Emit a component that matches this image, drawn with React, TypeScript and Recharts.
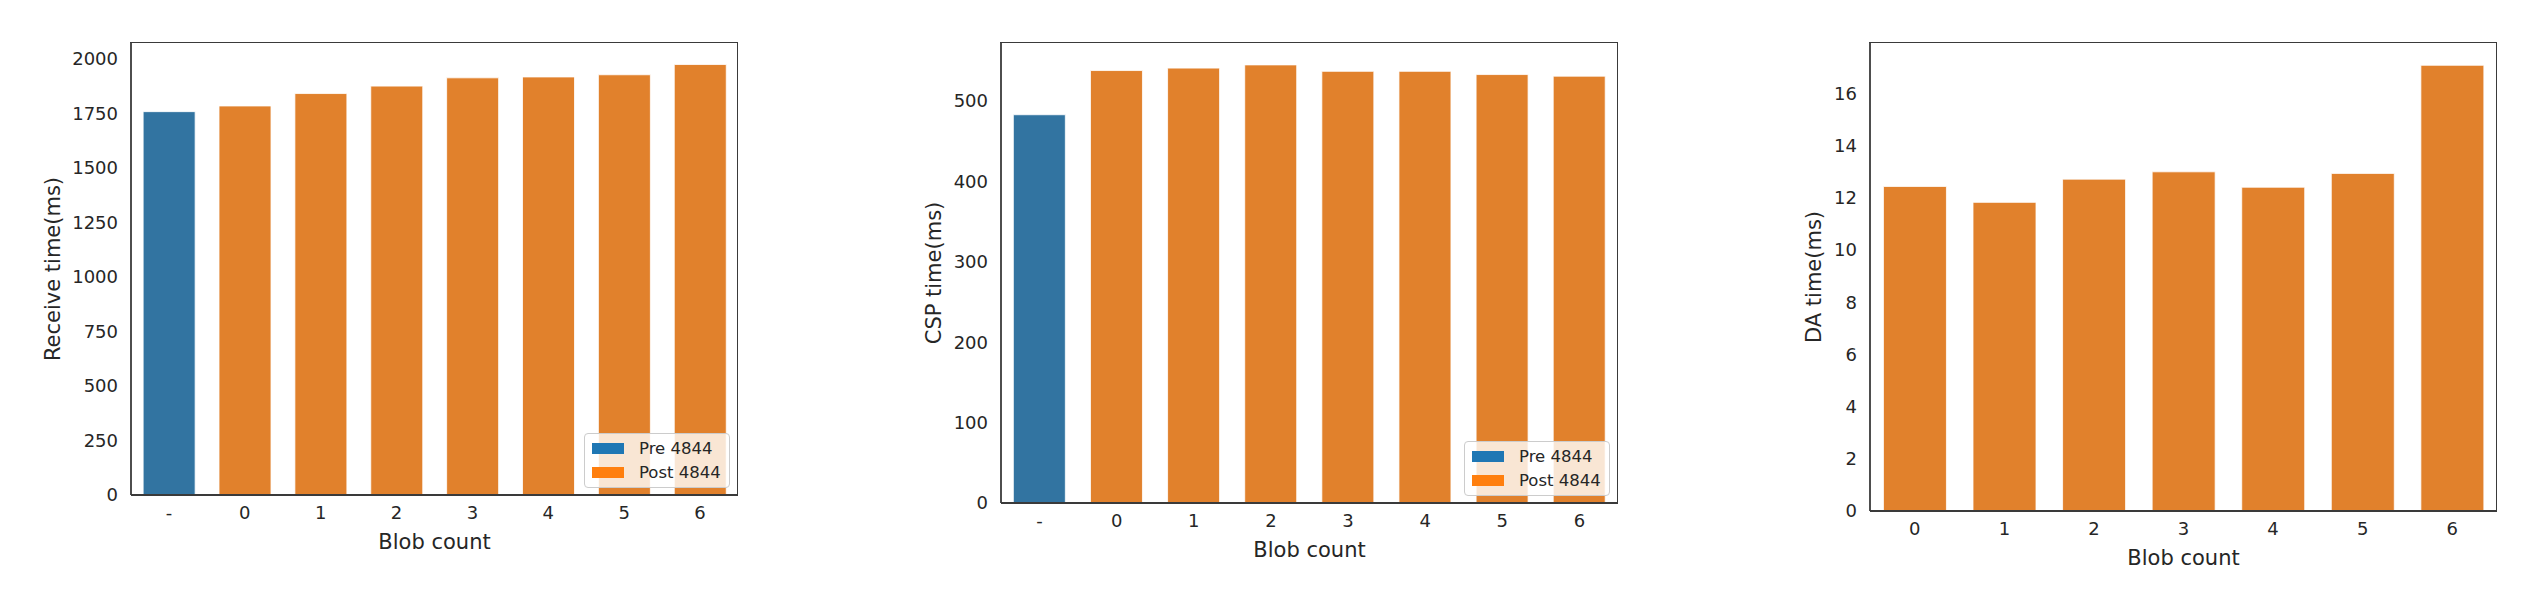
import { BarChart, Bar, XAxis, YAxis, Cell, Label } from "recharts";

// categories
const blobCats = ["-", "0", "1", "2", "3", "4", "5", "6"];
const blobPhases = ["Pre 4844", "Post 4844", "Post 4844", "Post 4844", "Post 4844", "Post 4844", "Post 4844", "Post 4844"];
const daCats = ["0", "1", "2", "3", "4", "5", "6"];

// series values (ms)
const receiveTimes = [1757, 1783, 1840, 1874, 1912, 1916, 1926, 1973];
const cspTimes = [483, 538, 541, 545, 537, 537, 533, 531];
const daTimes = [12.43, 11.82, 12.71, 12.99, 12.4, 12.93, 17.07];

// tick labels
const receiveTicks = [0, 250, 500, 750, 1000, 1250, 1500, 1750, 2000];
const cspTicks = [0, 100, 200, 300, 400, 500];
const daTicks = [0, 2, 4, 6, 8, 10, 12, 14, 16];

const legendItems = ["Pre 4844", "Post 4844"];

const BAR_COLORS: Record<string, string> = { "Pre 4844": "#3274a1", "Post 4844": "#e1812c" };
const PATCH_COLORS: Record<string, string> = { "Pre 4844": "#1f77b4", "Post 4844": "#ff7f0e" };

const FONT = "'DejaVu Sans', sans-serif";
const TEXT = "#262626";
const SPINE = "#3a3a3a";

type Row = { cat: string; value: number; phase: string };

const receiveRows: Row[] = blobCats.map((c, i) => ({ cat: c, value: receiveTimes[i], phase: blobPhases[i] }));
const cspRows: Row[] = blobCats.map((c, i) => ({ cat: c, value: cspTimes[i], phase: blobPhases[i] }));
const daRows: Row[] = daCats.map((c, i) => ({ cat: c, value: daTimes[i], phase: "Post 4844" }));

interface PanelProps {
  x: number;
  plot: { left: number; right: number; top: number; bottom: number };
  rows: Row[];
  ticks: number[];
  yLabel: string;
  yLabelDx: number;
  gap: string;
  legend?: boolean;
}

const W = 760;
const H = 614;

function LegendBox({ right, bottom }: { right: number; bottom: number }) {
  return (
    <div style={{
      position: "absolute", right, bottom, width: 146, height: 55,
      boxSizing: "border-box",
      background: "rgba(255,255,255,0.8)", border: "1px solid #cccccc", borderRadius: 4,
      fontFamily: FONT, fontSize: 16.5, color: TEXT,
    }}>
      {legendItems.map((name, i) => (
        <div key={name} style={{
          position: "absolute", left: 7, top: 2 + i * 24, height: 24,
          display: "flex", alignItems: "center", whiteSpace: "nowrap",
        }}>
          <span style={{ width: 32, height: 11, background: PATCH_COLORS[name], display: "inline-block" }} />
          <span style={{ marginLeft: 15 }}>{name}</span>
        </div>
      ))}
    </div>
  );
}

function Panel({ x, plot, rows, ticks, yLabel, yLabelDx, gap, legend }: PanelProps) {
  const tickStyle = { fontSize: 18, fill: TEXT, fontFamily: FONT };
  const spine = { stroke: SPINE, strokeWidth: 1.8 };
  return (
    <div style={{ position: "absolute", left: x, top: 0, width: W, height: H }}>
      <BarChart
        width={W}
        height={H}
        data={rows}
        margin={{ top: plot.top, right: W - plot.right, left: 0, bottom: 0 }}
        barCategoryGap={gap}
      >
        <XAxis
          dataKey="cat"
          height={H - plot.bottom}
          interval={0}
          tickSize={0}
          tickMargin={11}
          tickLine={false}
          tick={tickStyle}
          axisLine={spine}
        >
          <Label value="Blob count" position="insideTop" offset={39}
            style={{ fontSize: 21, fill: TEXT, fontFamily: FONT }} />
        </XAxis>
        <YAxis
          width={plot.left}
          type="number"
          ticks={ticks}
          domain={[0, (m: number) => m * 1.05]}
          interval={0}
          tickSize={0}
          tickMargin={13}
          tickLine={false}
          tick={tickStyle}
          axisLine={spine}
        >
          <Label value={yLabel} angle={-90} position="center" dx={yLabelDx}
            style={{ fontSize: 21, fill: TEXT, fontFamily: FONT, textAnchor: "middle" }} />
        </YAxis>
        <Bar dataKey="value" isAnimationActive={false} stroke="#ffffff" strokeWidth={0.8}>
          {rows.map((r, i) => (
            <Cell key={i} fill={BAR_COLORS[r.phase]} />
          ))}
        </Bar>
      </BarChart>
      {/* top and right spines of the axes frame */}
      <div style={{
        position: "absolute", left: plot.left - 0.9, top: plot.top - 0.9,
        width: plot.right - plot.left + 0.9, height: plot.bottom - plot.top,
        borderTop: `1.8px solid ${SPINE}`, borderRight: `1.8px solid ${SPINE}`,
        boxSizing: "border-box", pointerEvents: "none",
      }} />
      {legend && <LegendBox right={W - plot.right + 8} bottom={H - plot.bottom + 7} />}
    </div>
  );
}

export default function App() {
  return (
    <div style={{ position: "absolute", left: 0, top: 0, width: 2540, height: 614, background: "#fff", fontFamily: FONT }}>
      <Panel x={0} plot={{ left: 131, right: 738, top: 43, bottom: 495 }}
        rows={receiveRows} ticks={receiveTicks} yLabel="Receive time(ms)" yLabelDx={-12.5} gap="16%" legend />
      <Panel x={880} plot={{ left: 121, right: 738, top: 43, bottom: 503 }}
        rows={cspRows} ticks={cspTicks} yLabel="CSP time(ms)" yLabelDx={-6.5} gap="16%" legend />
      <Panel x={1760} plot={{ left: 110, right: 737, top: 43, bottom: 511 }}
        rows={daRows} ticks={daTicks} yLabel="DA time(ms)" yLabelDx={-1} gap="15%" />
    </div>
  );
}
